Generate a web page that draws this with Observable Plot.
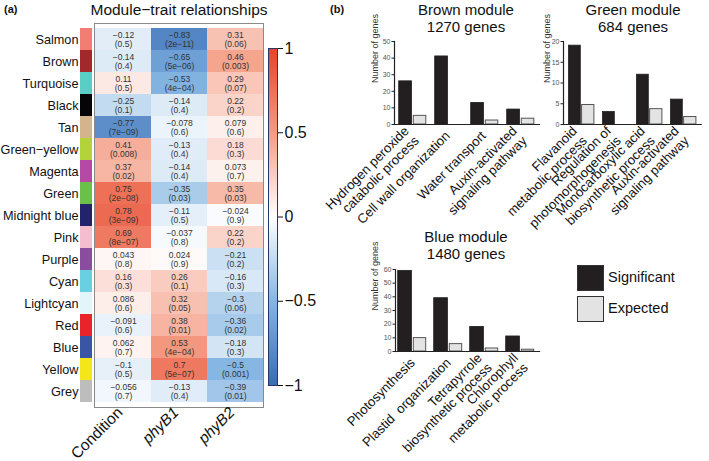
<!DOCTYPE html>
<html><head><meta charset="utf-8">
<script src="https://cdn.jsdelivr.net/npm/d3@7"></script>
<script src="https://cdn.jsdelivr.net/npm/@observablehq/plot@0.6"></script>
<style>
body{margin:0;background:#fff;}
#root{position:relative;width:709px;height:461px;overflow:hidden;font-family:"Liberation Sans",Arial,sans-serif;color:#111;}
#root svg{position:absolute;left:0;top:0;overflow:visible;background:transparent;}
.lbl{position:absolute;white-space:nowrap;}
.ttl{position:absolute;white-space:nowrap;transform:translateX(-50%);text-align:center;font-size:15px;line-height:17px;}
.box{position:absolute;width:25px;height:24px;border:1.5px solid #333;}
</style></head><body><div id="root"></div>
<script>
// ---------- data: module–trait heatmap ----------
const modules = ["Salmon","Brown","Turquoise","Black","Tan","Green−yellow","Magenta","Green","Midnight blue","Pink","Purple","Cyan","Lightcyan","Red","Blue","Yellow","Grey"];
const moduleColors = ["#f27d72","#a3282b","#5ccdc4","#050505","#d2b58d","#b4d23a","#b54aa6","#6cbf48","#22236a","#f5bdd0","#8a4c9e","#6acfe0","#e2f5f8","#e8232a","#3b55a6","#f4e61b","#bdbdbd"];
const traits = ["Condition","phyB1","phyB2"];
const corCondition = [-0.12,-0.14,0.11,-0.25,-0.77,0.41,0.37,0.75,0.78,0.69,0.043,0.16,0.086,-0.091,0.062,-0.1,-0.056];
const pCondition = ["0.5","0.4","0.5","0.1","7e−09","0.008","0.02","2e−08","3e−09","8e−07","0.8","0.3","0.6","0.6","0.7","0.5","0.7"];
const corPhyB1 = [-0.83,-0.65,-0.53,-0.14,-0.078,-0.13,-0.14,-0.35,-0.11,-0.037,0.024,0.26,0.32,0.38,0.53,0.7,-0.13];
const pPhyB1 = ["2e−11","5e−06","4e−04","0.4","0.6","0.4","0.4","0.03","0.5","0.8","0.9","0.1","0.05","0.01","4e−04","5e−07","0.4"];
const corPhyB2 = [0.31,0.46,0.29,0.22,0.079,0.18,0.073,0.35,-0.024,0.22,-0.21,-0.16,-0.3,-0.36,-0.18,-0.5,-0.39];
const pPhyB2 = ["0.06","0.003","0.07","0.2","0.6","0.3","0.7","0.03","0.9","0.2","0.2","0.3","0.06","0.02","0.3","0.001","0.01"];
const colorbarTicks = [-1,-0.5,0,0.5,1];

// ---------- data: GO enrichment bars ----------
const brownTerms = ["Hydrogen peroxide\ncatabolic process","Cell wall organization","Water transport","Auxin-activated\nsignaling pathway"];
const brownSignificant = [26,41,13,9];
const brownExpected = [5.2,0,2.4,3.5];
const greenTerms = ["Flavanoid\nmetabolic process","Regulation of\nphotomorphogenesis","Monocarboxylic acid\nbiosynthetic process","Auxin-activated\nsignaling pathway"];
const greenSignificant = [19,3,12,6];
const greenExpected = [4.7,0,3.7,1.8];
const blueTerms = ["Photosynthesis","Plastid  organization","Tetrapyrrole\nbiosynthetic process","Chlorophyll\nmetabolic process"];
const blueSignificant = [59,39,18,11];
const blueExpected = [9.8,5.4,2.2,1.3];
const brownTicks = [0,10,20,30,40,50];
const greenTicks = [0,5,10,15,20];
const blueTicks = [0,10,20,30,40,50,60];

// ---------- build ----------
const W = 709, H = 461;
const FONT = '"Liberation Sans", Arial, sans-serif';
const root = document.getElementById("root");
const fmt = v => String(v).replace("-", "−");
const colorScale = {type:"linear", domain:[-1,-0.5,0,0.5,1],
  range:["#3a6cb4","#86b6e3","#ffffff","#f49c84","#e8432a"], interpolate:"rgb", clamp:true};

const cors = [corCondition, corPhyB1, corPhyB2];
const ps = [pCondition, pPhyB1, pPhyB2];
const cells = modules.flatMap((m, i) => traits.map((t, j) => ({module:m, trait:t, r:cors[j][i], p:ps[j][i]})));
const strip = modules.map((m, i) => ({module:m, color:moduleColors[i]}));

// strip + row labels
root.append(Plot.plot({
  width:W, height:H, marginLeft:80, marginRight:W-92, marginTop:23, marginBottom:H-407,
  style:{fontFamily:FONT, background:"transparent", overflow:"visible"},
  x:{domain:["s"], padding:0, axis:null},
  y:{domain:modules, padding:0, axis:null},
  color:{type:"identity"},
  marks:[
    Plot.cell(strip, {x:() => "s", y:"module", fill:"color"}),
    Plot.text(strip, {y:"module", frameAnchor:"left", dx:-2, textAnchor:"end", text:"module", fontSize:12.7, fill:"#111"})
  ]
}));

// heatmap
root.append(Plot.plot({
  width:W, height:H, marginLeft:94, marginRight:W-263, marginTop:23, marginBottom:H-407,
  style:{fontFamily:FONT, background:"transparent", overflow:"visible"},
  x:{domain:traits, padding:0, axis:null},
  y:{domain:modules, padding:0, axis:null},
  color:colorScale,
  marks:[
    Plot.cell(cells, {x:"trait", y:"module", fill:"r"}),
    Plot.frame({stroke:"#8a8a8a", strokeWidth:1}),
    Plot.text(cells, {x:"trait", y:"module", text:d => fmt(d.r), dy:-4.6, fontSize:8.5, fill:"#333"}),
    Plot.text(cells, {x:"trait", y:"module", text:d => "(" + d.p + ")", dy:4.8, fontSize:8.5, fill:"#333"}),
    Plot.text(traits.slice(0,1), {x:d => d, frameAnchor:"bottom", text:d => d, rotate:-45, textAnchor:"end", dx:0, dy:6, fontSize:15.5, fill:"#111"}),
    Plot.text(traits.slice(1), {x:d => d, frameAnchor:"bottom", text:d => d, rotate:-45, textAnchor:"end", dx:0, dy:6, fontSize:15.5, fontStyle:"italic", fill:"#111"})
  ]
}));

// colour bar
root.append(Plot.plot({
  width:W, height:H, marginLeft:268, marginRight:W-277, marginTop:48, marginBottom:H-385,
  style:{fontFamily:FONT, background:"transparent", overflow:"visible"},
  x:{domain:[0,1], axis:null},
  y:{domain:[-1,1], axis:null},
  color:colorScale,
  marks:[
    Plot.raster({x1:0, x2:1, y1:-1, y2:1, width:1, height:300, fill:(x, y) => y}),
    Plot.frame({stroke:"#23386b", strokeWidth:1}),
    Plot.axisY({anchor:"right", ticks:colorbarTicks, tickFormat:fmt, tickSize:5, tickPadding:2, fontSize:16, fill:"#111", stroke:"#111", label:null})
  ]
}));

// bar panels
function barPanel(terms, sig, exp, ticks, g) {
  const data = terms.map((t, i) => ({term:t, sig:sig[i], exp:exp[i]}));
  const n = terms.length;
  root.append(Plot.plot({
    width:W, height:H, marginLeft:g.left, marginRight:W - (g.left + g.bw * n),
    marginTop:g.top, marginBottom:H - g.bottom,
    style:{fontFamily:FONT, background:"transparent", overflow:"visible"},
    x:{domain:terms, padding:0, axis:null},
    y:{domain:[0, ticks[ticks.length - 1]], axis:null},
    marks:[
      Plot.barY(data, {x:"term", y:"sig", fill:"#231f20", stroke:"#231f20", strokeWidth:0.8,
        insetLeft:g.bl, insetRight:g.bw - g.bl - g.w1}),
      Plot.barY(data, {x:"term", y:"exp", fill:"#e3e3e3", stroke:"#555", strokeWidth:1,
        insetLeft:g.gl, insetRight:g.bw - g.gl - g.w2}),
      Plot.ruleY([0], {stroke:"#222", strokeWidth:1.2}),
      Plot.frame({anchor:"left", stroke:"#222", strokeWidth:1.2}),
      Plot.axisY({ticks, tickSize:2.5, tickPadding:1.5, fontSize:7, fill:"#555", stroke:"#222", label:null}),
      Plot.text(["Number of genes"], {frameAnchor:"left", text:d => d, rotate:-90, dx:g.ylab, fontSize:9, fill:"#333"}),
      Plot.text(data, {x:"term", frameAnchor:"bottom", text:"term", rotate:-45, textAnchor:"end",
        lineAnchor:"middle", dx:-2, dy:9, fontSize:13.2, lineHeight:1.05, fill:"#111"})
    ]
  }));
}
barPanel(brownTerms, brownSignificant, brownExpected, brownTicks,
  {left:394, bw:36.5, top:41, bottom:124, bl:3.7, w1:13.3, gl:18.3, w2:13, ylab:-19});
barPanel(greenTerms, greenSignificant, greenExpected, greenTicks,
  {left:563, bw:34.7, top:41, bottom:124, bl:4.5, w1:12.5, gl:17.6, w2:13, ylab:-16});
barPanel(blueTerms, blueSignificant, blueExpected, blueTicks,
  {left:395, bw:36.3, top:269, bottom:351, bl:1.7, w1:14, gl:17.3, w2:12.7, ylab:-20});

// titles, panel letters, legend
function addDiv(cls, html, css) {
  const d = document.createElement("div");
  d.className = cls; d.innerHTML = html; Object.assign(d.style, css); root.append(d);
}
addDiv("lbl", "(a)", {left:"4px", top:"3px", fontSize:"11px", fontWeight:"bold"});
addDiv("lbl", "(b)", {left:"330px", top:"3px", fontSize:"11px", fontWeight:"bold"});
addDiv("ttl", "Module−trait relationships", {left:"179px", top:"1px", fontSize:"15.5px"});
addDiv("ttl", "Brown module<br>1270 genes", {left:"466px", top:"1px"});
addDiv("ttl", "Green module<br>684 genes", {left:"633px", top:"1px"});
addDiv("ttl", "Blue module<br>1480 genes", {left:"466px", top:"228px"});
addDiv("box", "", {left:"577px", top:"265px", background:"#231f20"});
addDiv("box", "", {left:"577px", top:"296px", background:"#e3e3e3"});
addDiv("lbl", "Significant", {left:"608px", top:"269px", fontSize:"14.5px"});
addDiv("lbl", "Expected", {left:"608px", top:"300px", fontSize:"14.5px"});
</script></body></html>
